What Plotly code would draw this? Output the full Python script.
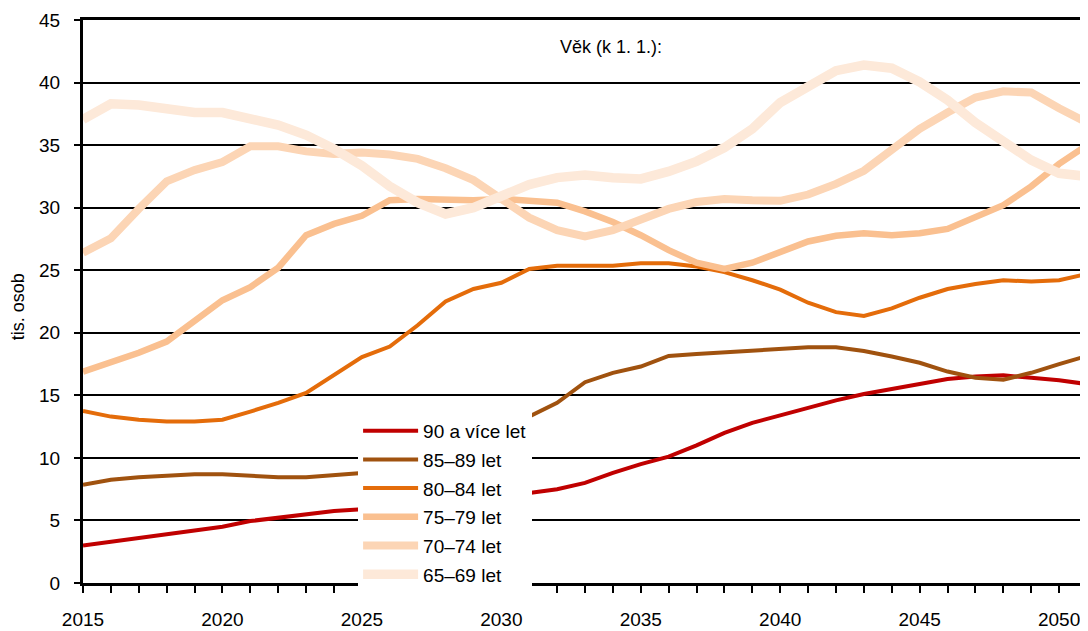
import plotly.graph_objects as go

years = list(range(2015, 2052))

v90 = [3.0, 3.3, 3.6, 3.9, 4.2, 4.5, 4.95, 5.2, 5.5, 5.75, 5.9, 6.1, 6.3, 6.6, 6.8, 7.0, 7.2,
       7.5, 8.0, 8.8, 9.5, 10.1, 11.0, 12.0, 12.8, 13.4, 14.0, 14.6, 15.1, 15.5, 15.95,
       16.3, 16.5, 16.6, 16.4, 16.2, 15.9]
v85 = [7.85, 8.25, 8.45, 8.6, 8.7, 8.7, 8.55, 8.45, 8.45, 8.6, 8.8, 9.2, 9.8, 10.5, 11.3,
       12.2, 13.3, 14.4, 16.05, 16.8, 17.3, 18.15, 18.3, 18.45, 18.55, 18.7, 18.85, 18.85,
       18.55, 18.1, 17.6, 16.9, 16.4, 16.25, 16.8, 17.5, 18.15]
v80 = [13.75, 13.3, 13.05, 12.9, 12.9, 13.05, 13.7, 14.4, 15.2, 16.6, 18.05, 18.9, 20.6,
       22.5, 23.5, 24.0, 25.1, 25.35, 25.35, 25.35, 25.55, 25.55, 25.3, 24.85, 24.2, 23.45,
       22.4, 21.65, 21.35, 21.95, 22.8, 23.5, 23.9, 24.2, 24.1, 24.2, 24.7]
v75 = [16.9, 17.65, 18.4, 19.3, 21.0, 22.6, 23.65, 25.2, 27.8, 28.7, 29.35, 30.6, 30.7,
       30.6, 30.6, 30.7, 30.5, 30.4, 29.7, 28.85, 27.8, 26.6, 25.6, 25.1, 25.6, 26.5, 27.3,
       27.75, 27.95, 27.8, 27.95, 28.3, 29.2, 30.2, 31.7, 33.5, 35.0]
v70 = [26.4, 27.55, 29.9, 32.1, 33.0, 33.65, 34.9, 34.9, 34.5, 34.3, 34.4, 34.25, 33.9,
       33.15, 32.2, 30.7, 29.2, 28.2, 27.7, 28.2, 29.1, 29.9, 30.45, 30.7, 30.6, 30.55,
       31.05, 31.9, 32.95, 34.6, 36.3, 37.6, 38.8, 39.3, 39.2, 37.95, 36.8]
v65 = [37.05, 38.3, 38.2, 37.9, 37.6, 37.6, 37.1, 36.6, 35.8, 34.7, 33.35, 31.7, 30.4,
       29.5, 30.0, 30.9, 31.85, 32.4, 32.6, 32.4, 32.3, 32.9, 33.7, 34.8, 36.3, 38.4, 39.7,
       40.95, 41.4, 41.15, 40.05, 38.6, 36.8, 35.2, 33.8, 32.75, 32.5]

names = ["90 a více let", "85–89 let", "80–84 let", "75–79 let", "70–74 let", "65–69 let"]
series = [v90, v85, v80, v75, v70, v65]
colors = ["#C00000", "#A0520F", "#E46C0A", "#FAC090", "#FCD5B5", "#FDE9D9"]
widths = [4, 4, 4, 6.5, 8, 9.5]

y_ticks = list(range(0, 46, 5))
x_ticks = list(range(2015, 2051, 5))

FONT = "Arial, Liberation Sans, sans-serif"

fig = go.Figure()
for i, (nm, vals, col, w) in enumerate(zip(names, series, colors, widths)):
    fig.add_trace(go.Scatter(x=years, y=vals, mode="lines", name=nm,
                             legendgroup=f"g{i}",
                             line=dict(color=col, width=w)))

fig.update_layout(
    width=1080, height=623,
    margin=dict(l=75, r=1, t=12, b=35),
    paper_bgcolor="white", plot_bgcolor="white",
    font=dict(family=FONT, size=19, color="black"),
    showlegend=True,
    legend=dict(x=0.274, y=0.304, xanchor="left", yanchor="top",
                bgcolor="white", borderwidth=0,
                font=dict(family=FONT, size=19, color="black"),
                traceorder="grouped", tracegroupgap=1,
                itemwidth=55),
    xaxis=dict(range=[2015, 2051], tickvals=x_ticks, ticks="outside", ticklen=7,
               tickwidth=2, tickcolor="black", showline=True, linecolor="black",
               linewidth=3, mirror=True, showgrid=False, zeroline=False,
               tickfont=dict(size=19), ticklabelstandoff=10,
               minor=dict(dtick=1, ticks="outside", ticklen=7, tickwidth=2,
                          tickcolor="black", showgrid=False)),
    yaxis=dict(range=[0, 45], tickvals=y_ticks, ticks="outside", ticklen=6,
               tickwidth=2, tickcolor="black", showline=True, linecolor="black",
               linewidth=3, showgrid=True, gridcolor="black", gridwidth=1.6,
               zeroline=False, tickfont=dict(size=19), ticklabelstandoff=10),
    annotations=[
        dict(text="Věk (k 1. 1.):", x=0.526, y=0.974, xref="paper", yref="paper",
             showarrow=False, font=dict(size=18, family=FONT, color="black")),
        dict(text="tis. osob", x=-0.0647, y=0.49, xref="paper", yref="paper",
             xanchor="center", yanchor="middle",
             textangle=-90, showarrow=False,
             font=dict(size=18, family=FONT, color="black")),
    ],
    shapes=[dict(type="line", xref="paper", yref="paper", x0=1, x1=1, y0=0, y1=1,
                 line=dict(color="#808080", width=1))],
)

fig.write_html("out.html")
